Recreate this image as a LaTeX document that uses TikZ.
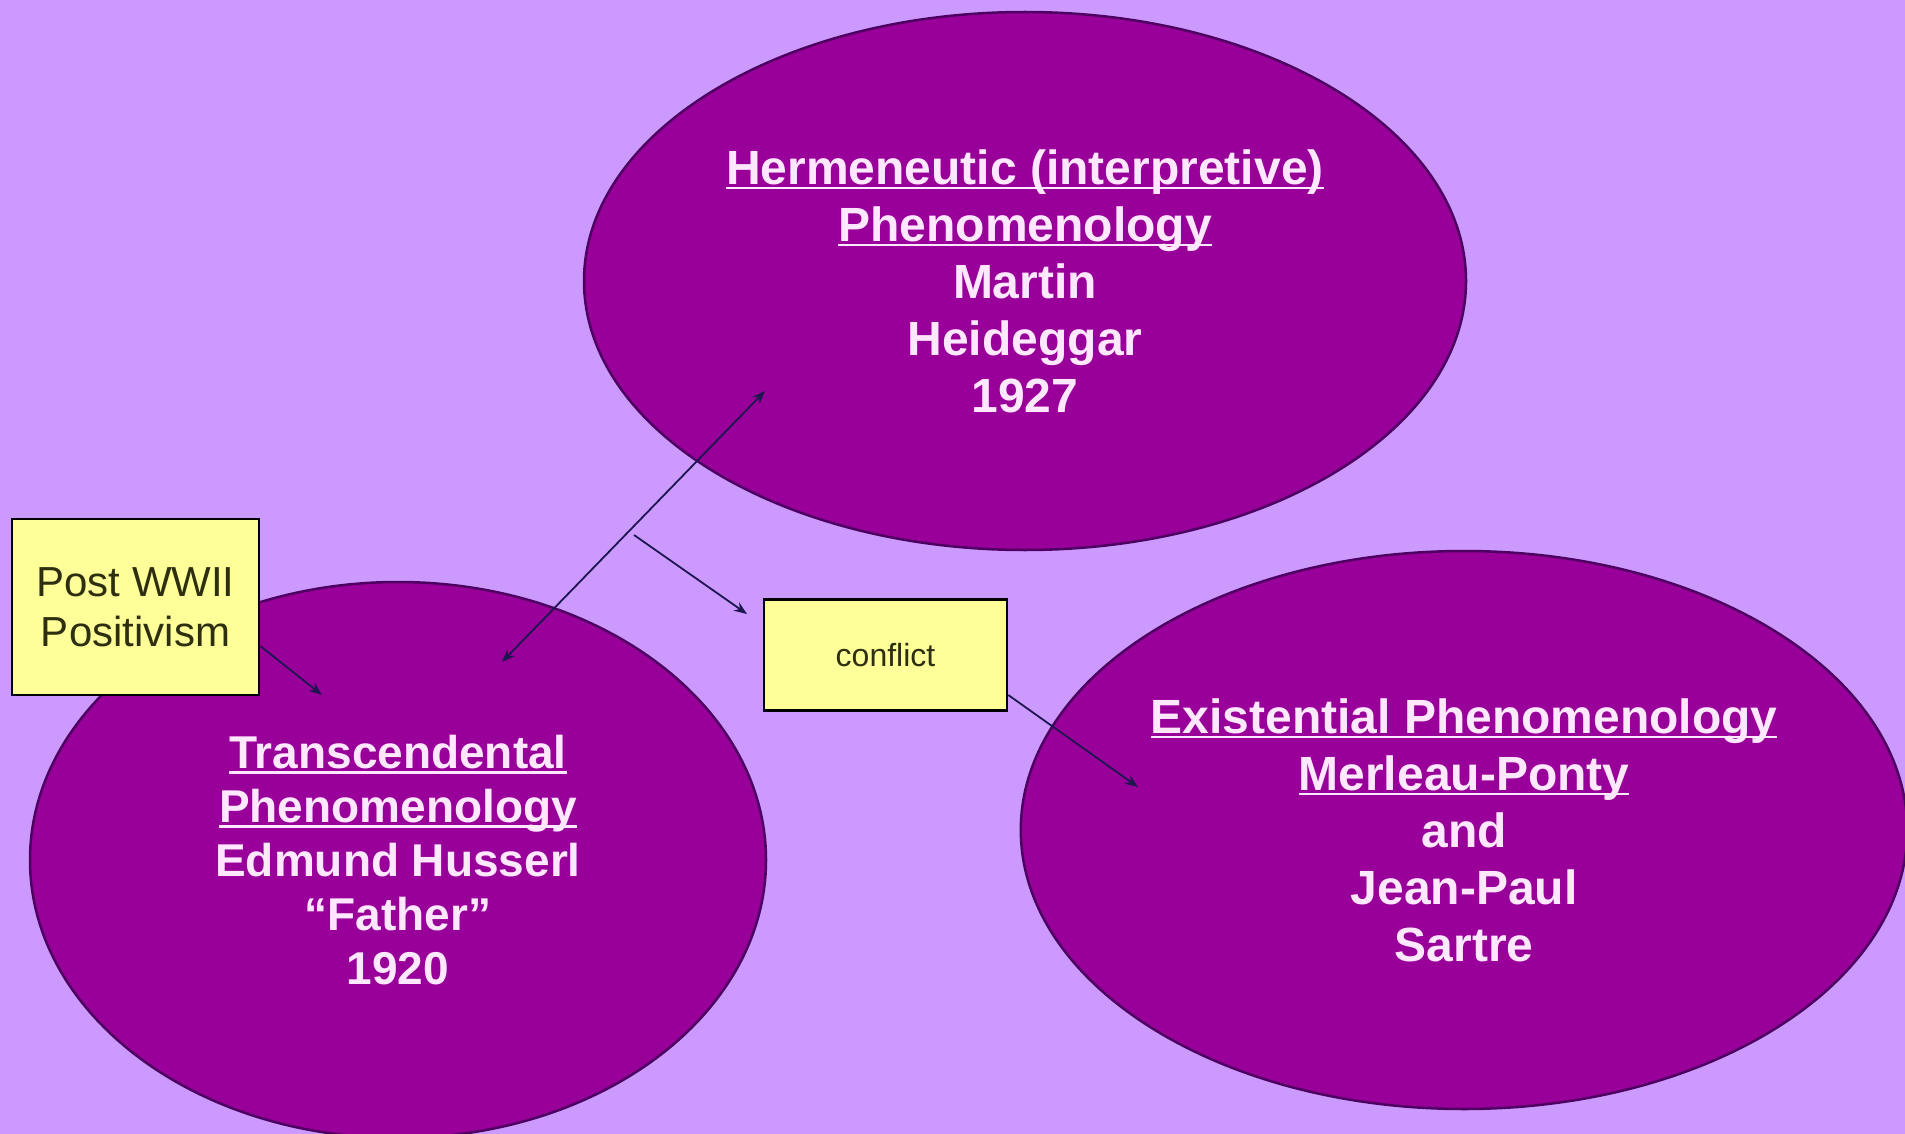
\documentclass[tikz,border=0pt]{standalone}
\usepackage{fontspec}
\setmainfont{Liberation Sans}
\usetikzlibrary{shapes.geometric,arrows.meta}
\definecolor{bgc}{HTML}{CC99FF}
\definecolor{ellc}{HTML}{990099}
\definecolor{elld}{HTML}{4E0062}
\definecolor{txtc}{HTML}{FFE8FF}
\definecolor{boxc}{HTML}{FFFF99}
\definecolor{boxt}{HTML}{2E2E10}
\definecolor{arrc}{HTML}{1E1650}
\newcommand\myul[1]{\setbox0\hbox{#1}\mbox{\rlap{\rule[-0.11em]{\wd0}{0.06em}}\box0}}
\begin{document}
\begin{tikzpicture}[x=1pt,y=-1pt,
  ell/.style={ellipse, fill=ellc, draw=elld, line width=2.5pt, inner sep=0pt, text=txtc, align=center},
  notebox/.style={rectangle, fill=boxc, draw=black, line width=2.5pt, text=boxt, align=center, inner sep=0pt},
  conn/.style={draw=arrc, line width=1.8pt, -{Stealth[length=13pt,width=10pt]}},
  dconn/.style={draw=arrc, line width=1.8pt, {Stealth[length=13pt,width=10pt]}-{Stealth[length=13pt,width=10pt]}}]
\fill[bgc] (0,0) rectangle (1905,1134);
\useasboundingbox (0,0) rectangle (1905,1134);

\node[ell, minimum width=882pt, minimum height=538pt, font=\fontsize{48pt}{57pt}\selectfont\bfseries] (herm) at (1025,281)
  {\myul{Hermeneutic (interpretive)}\\ \myul{Phenomenology}\\ Martin\\ Heideggar\\ 1927};
\node[ell, minimum width=736pt, minimum height=556pt, font=\fontsize{46pt}{54pt}\selectfont\bfseries] (trans) at (398,860)
  {\myul{Transcendental}\\ \myul{Phenomenology}\\ Edmund Husserl\\ “Father”\\ 1920};
\node[ell, minimum width=880pt, minimum height=558pt, font=\fontsize{48pt}{57pt}\selectfont\bfseries] (exist) at (1464,830)
  {\myul{Existential Phenomenology}\\ \myul{Merleau-Ponty}\\ and\\ Jean-Paul\\ Sartre};

\node[notebox, minimum width=247pt, minimum height=176pt, font=\fontsize{42pt}{50pt}\selectfont] (post) at (135.5,607)
  {Post WWII\\ Positivism};
\node[notebox, minimum width=243pt, minimum height=111pt, font=\fontsize{32pt}{38pt}\selectfont] (conf) at (885.5,655)
  {conflict};

\coordinate (a1s) at (502,662);
\coordinate (a1e) at (765,391);
\coordinate (a2s) at (634,535);
\coordinate (a2e) at (747,614);
\coordinate (a3e) at (322,695);
\coordinate (a4e) at (1138,787);

\draw[dconn] (a1s) -- (a1e);
\draw[conn] (a2s) -- (a2e);
\draw[conn] ([yshift=-39pt]post.east) -- (a3e);
\draw[conn] ([yshift=-40pt]conf.east) -- (a4e);
\end{tikzpicture}
\end{document}
